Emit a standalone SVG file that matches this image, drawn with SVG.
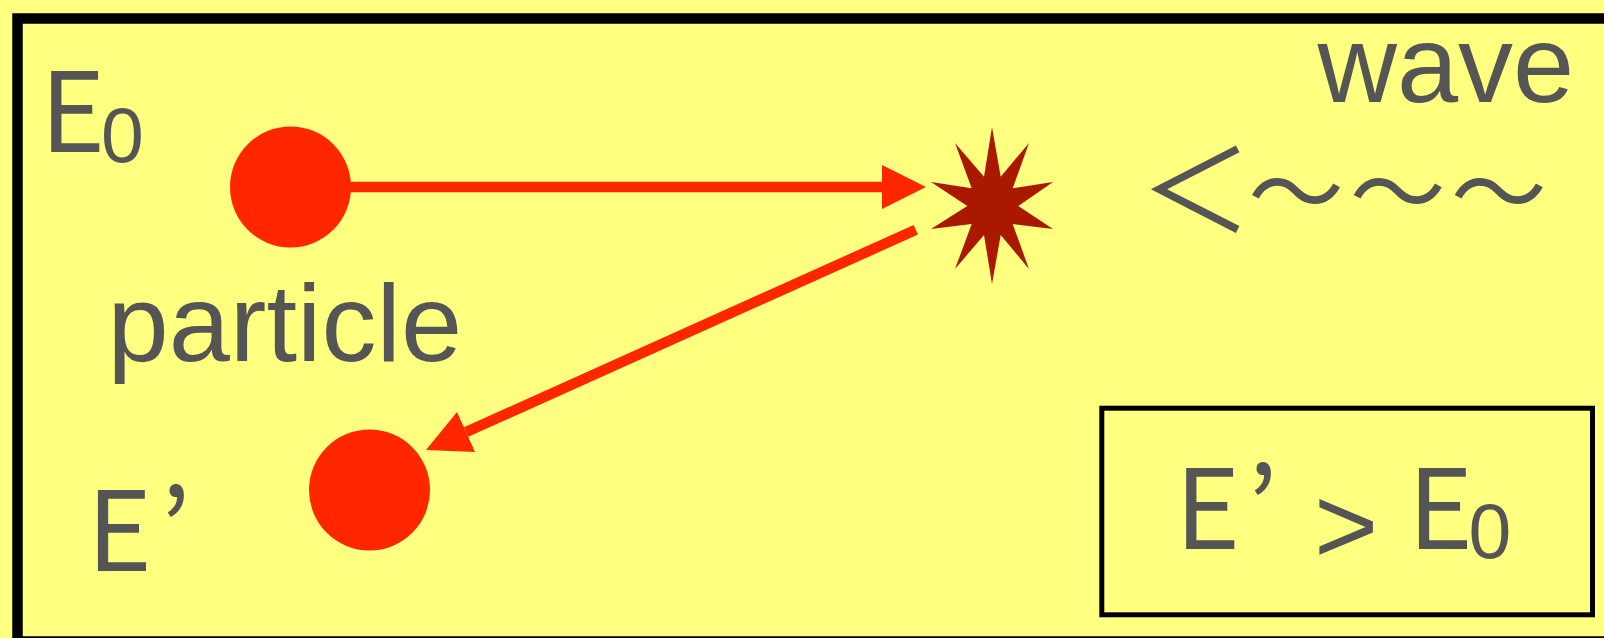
<svg xmlns="http://www.w3.org/2000/svg" width="1604" height="638" viewBox="0 0 1604 638">
<defs>
<style>
.t{font-family:"Liberation Sans",Arial,sans-serif;fill:#555555;font-size:110px}
.e{font-family:"Noto Sans CJK JP","Liberation Sans",sans-serif;font-size:111px}
.sub{font-family:"Liberation Sans",Arial,sans-serif;font-size:77px}
.lt{font-family:"Noto Sans CJK JP",sans-serif;font-size:113px}
.tl{font-family:"Noto Sans CJK KR",sans-serif;font-size:96px}
.conn{stroke:#FF2600;stroke-width:10.5;fill:none}
.dot{fill:#FF2600}
</style>
<marker id="ah" viewBox="0 0 44 44" markerWidth="44" markerHeight="44" markerUnits="userSpaceOnUse" refX="0" refY="22" orient="auto">
<path d="M0,0 L44,22 L0,44 Z" fill="#FF2600"/>
</marker>
</defs>
<rect x="0" y="0" width="1604" height="638" fill="#FFFF80"/>
<rect id="frame" x="17.5" y="18.5" width="1600" height="623" fill="#FFFF80" stroke="#000" stroke-width="10.5"/>
<g id="label-e0"><text class="t e" x="40" y="152.3">E<tspan class="sub" x="101" y="161.5">0</tspan></text></g>
<g id="particle-in"><circle class="dot" cx="290.5" cy="187" r="60.5"/></g>
<g id="label-particle"><text class="t" x="107.5" y="360.7" font-size="113">particle</text></g>
<g id="particle-out"><circle class="dot" cx="369.5" cy="490" r="60.5"/></g>
<g id="label-eprime"><text class="t e" x="86.7" y="570.7">E<tspan x="160">’</tspan></text></g>
<g id="collision"><polygon fill="#AA1800" points="992,127 1000.7,176.7 1029,143 1012.7,188.3 1053,182 1018.3,206 1053,229 1012.7,224 1029,269 1000.7,235 992,284 984,235 955,269 971.7,224 931,229 967.3,206 931,182 971.7,188.3 955,143 984,176.7"/></g>
<g id="label-wave"><text class="t" x="1317.5" y="101.7">wave</text></g>
<g id="wave-symbol"><text class="t lt" x="1139.5" y="231">＜<tspan class="tl" x="1248" y="226.5">〜</tspan><tspan class="tl" x="1349.7">〜</tspan><tspan class="tl" x="1450.7">〜</tspan></text></g>
<g id="result"><rect x="1101.8" y="408.2" width="490.7" height="206.6" fill="none" stroke="#000" stroke-width="5"/>
<text class="t e" x="1175" y="549.3">E<tspan x="1247">’</tspan><tspan class="t" font-size="118" x="1314" y="563">&gt;</tspan><tspan x="1407.7" y="549.3">E</tspan><tspan class="sub" x="1468.4" y="558">0</tspan></text></g>
<g id="connectors">
<line class="conn" x1="345" y1="187" x2="882" y2="187" marker-end="url(#ah)"/>
<line class="conn" x1="915.8" y1="229.8" x2="466.1" y2="432" marker-end="url(#ah)"/>
</g>
</svg>
